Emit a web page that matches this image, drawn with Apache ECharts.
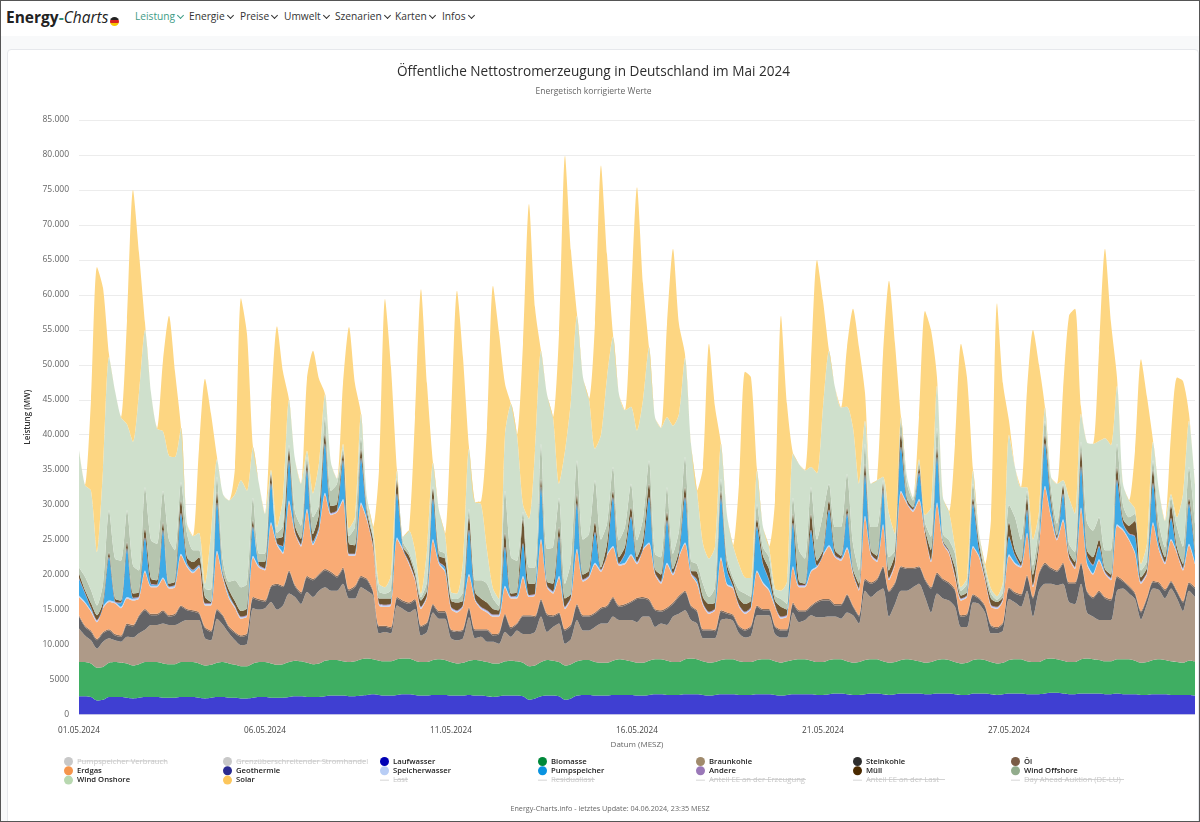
<!DOCTYPE html>
<html lang="de">
<head>
<meta charset="utf-8">
<title>Energy-Charts</title>
<script src="https://cdn.jsdelivr.net/npm/echarts@6/dist/echarts.min.js"></script>
<style>
    html, body { margin: 0; padding: 0; width: 1200px; height: 822px; overflow: hidden; background: #f8f9fa; font-family: "Open Sans", sans-serif; }
    #nav { position: absolute; left: 0; top: 0; width: 1200px; height: 36px; background: #fff; }
    #logo { position: absolute; left: 6px; top: 6px; font-size: 15.5px; line-height: 22px; color: #222; white-space: nowrap; }
    #logo b { font-weight: 700; }
    #logo span { color: #2f8f78; font-weight: 700; }
    #logo i { font-weight: 400; }
    #flag { position: absolute; left: 110px; top: 17px; width: 9px; height: 9px; border-radius: 50%; background: linear-gradient(#222 0 33%, #d8231f 33% 66%, #f7c600 66%); }
    .menu { position: absolute; top: 9px; font-size: 10.2px; line-height: 15px; color: #333; white-space: nowrap; }
    .menu::after { content: ""; display: inline-block; width: 4px; height: 4px; margin: 0 0 2px 3px; border-right: 1.5px solid currentColor; border-bottom: 1.5px solid currentColor; transform: rotate(45deg); }
    .menu.active { color: #3e9c86; }
    #card { position: absolute; left: 7px; top: 49px; width: 1192px; height: 780px; background: #fff; border: 1px solid #e6e8ec; border-radius: 4px; box-sizing: border-box; }
    #main { position: absolute; left: 0; top: 0; width: 1200px; height: 822px; }
    #frame { position: absolute; left: 0; top: 0; width: 1200px; height: 822px; box-sizing: border-box; border: 1.5px solid #555; pointer-events: none; }
</style>
</head>
<body>
<div id="nav">
    <div id="logo"><b>Energy</b><span>-</span><i>Charts</i></div>
    <div id="flag"></div>
    <div class="menu active" style="left:135px">Leistung</div>
    <div class="menu" style="left:189px">Energie</div>
    <div class="menu" style="left:240px">Preise</div>
    <div class="menu" style="left:284px">Umwelt</div>
    <div class="menu" style="left:335px">Szenarien</div>
    <div class="menu" style="left:395px">Karten</div>
    <div class="menu" style="left:442px">Infos</div>
</div>
<div id="card"></div>
<div id="main"></div>
<div id="frame"></div>
<script>
// Werte, alle 4 Stunden (00, 04, 08, 12, 16, 20 Uhr), eine Zeile pro Tag, in MW
const tickLabels = ['01.05.2024', '06.05.2024', '11.05.2024', '16.05.2024', '21.05.2024', '27.05.2024']

const laufwasser = [
    2600,2600,2500,2000,2100,2500, 2500,2500,2400,2300,2400,2500, 2500,2500,2400,2400,2400,2500,
    2500,2500,2400,2300,2400,2500, 2500,2400,2400,2300,2300,2400, 2500,2500,2400,2400,2400,2500,
    2600,2600,2500,2500,2500,2600, 2700,2700,2700,2600,2600,2700, 2800,2900,2800,2700,2700,2800,
    2900,2900,2800,2700,2700,2800, 2800,2800,2700,2700,2700,2800, 2700,2700,2600,2500,2600,2700,
    2700,2700,2600,2100,2300,2600, 2700,2700,2600,2100,2300,2700, 2800,2800,2700,2700,2700,2800,
    2800,2800,2800,2700,2700,2800, 2900,2900,2800,2800,2800,2900, 2900,2900,2800,2700,2800,2900,
    2900,2900,2800,2800,2800,2900, 2900,2900,2800,2700,2800,2900, 2900,2900,2900,2800,2800,2900,
    3000,3000,2900,2800,2800,2900, 3000,3000,2900,2800,2900,3000, 3000,3000,3000,2900,2900,3000,
    3000,3000,2900,2800,2800,3000, 3000,3000,2900,2800,2900,3000, 3000,3000,2900,2900,2900,3000,
    3100,3100,3000,2900,2900,3000, 3000,3000,3000,2900,2900,3000, 2900,2900,2900,2800,2800,2900,
    2900,2900,2800,2800,2800,2800,2700
]
const biomasse = [
    4900,4900,4800,4700,4700,4900, 5000,4900,4900,4700,4800,5000, 5000,5000,4900,4800,4800,5000,
    5000,5000,4900,4700,4700,4900, 5000,4900,4700,4600,4600,4900, 5000,5000,4900,4700,4800,5000,
    5100,5000,4900,4700,4800,5100, 5100,5100,4900,4900,5000,5200, 5200,5000,4900,4900,4900,5100,
    5100,5100,4900,4800,4800,5000, 5100,5000,4800,4600,4700,4900, 5100,5000,4900,4800,4700,4900,
    5000,4900,4800,4800,4700,4900, 5100,5000,4900,4900,4900,4900, 5000,5000,4800,4700,4700,4900,
    5100,5000,4800,4700,4700,4900, 5000,5000,4900,4700,4700,5000, 5100,5000,4800,4700,4700,4900,
    5000,5000,4800,4700,4700,4900, 5000,5000,4800,4700,4800,4900, 5000,5000,4800,4700,4700,4900,
    4900,4900,4700,4600,4700,4900, 4900,4900,4700,4600,4600,4800, 4900,4800,4600,4500,4600,4800,
    4900,4800,4600,4500,4600,4800, 4900,4800,4600,4500,4500,4800, 4900,4900,4700,4600,4600,4900,
    4900,4800,4700,4600,4600,4900, 5000,4900,4800,4700,4700,4900, 5000,5000,4800,4600,4700,4900,
    5000,4900,4800,4700,4600,4900,4900
]
const braunkohle = [
    4800,3800,3300,2700,3600,3500, 3100,3000,3800,4000,4400,4600, 5300,5300,5700,5600,5600,5700,
    6000,6000,6200,3900,3500,6300, 5300,4300,3500,3000,3200,7900, 7500,7700,8800,7900,8400,9800,
    9100,8200,10100,9600,10400,10500, 9900,9900,11100,9100,9000,10300, 9700,9100,3900,4200,4000,7700,
    7100,6600,7400,3800,4300,6800, 5800,5900,3400,3300,3500,6200, 3100,3400,2900,3100,2800,4200,
    3400,4400,4100,4600,4800,6500, 4000,4800,5500,3100,3600,5900, 4200,4200,5000,5600,5600,6300,
    5600,5700,5900,5800,6600,6300, 4600,5100,5100,6500,6900,7000, 5500,5100,3300,3500,3400,5700,
    5800,5500,4000,3500,3800,6400, 6300,6300,3900,3600,3400,6800, 5300,5600,6500,6400,6400,6200,
    6100,5800,7000,6800,5500,9900, 8900,9600,10400,6600,8300,9900, 9800,10400,11100,9400,7100,9500,
    8700,8500,7900,5200,5100,8200, 7900,6800,4100,4300,4600,8700, 8100,7500,10100,6500,10200,10800,
    10700,10600,11000,8600,8300,10800, 6600,6100,5700,5900,5900,9800, 10100,9400,8800,6200,8300,10200,
    9900,8800,10400,9100,7400,10000,9200
]
const steinkohle = [
    1700,1200,1200,1200,1200,1100, 700,700,1700,1600,2400,2800, 1400,1400,1700,1200,1400,2200,
    1400,1200,900,1400,1200,1200, 1200,800,1000,1200,1300,1400, 1300,900,2100,3500,2600,3100,
    1500,1500,2100,2400,2200,2400, 2500,1900,2100,1100,1600,1400, 1500,500,900,700,700,1000,
    1000,1200,1200,1200,1200,1000, 900,900,1100,1200,1100,1200, 1100,900,1600,900,1400,2400,
    1200,900,2500,2500,2100,2300, 2400,1500,1400,1900,1900,2100, 2000,2000,1900,2100,2400,2600,
    1900,2100,2500,3300,2600,2300, 2400,1700,2300,1800,2400,2600, 1900,1700,1100,1100,1000,1200,
    700,700,900,1000,1200,1200, 700,700,1000,1000,1000,1200, 1500,1200,1200,2100,2400,2300,
    1600,1900,2400,1200,1000,1500, 1900,1700,3000,3500,2900,3300, 3100,2600,2300,2400,3400,2800,
    2600,2400,2300,1500,1700,1000, 700,800,1000,700,1000,1500, 1300,1600,2000,2600,2400,2800,
    2100,1900,2800,2600,2900,2800, 2900,2600,4000,3100,2800,1900, 1000,900,700,1000,800,900,
    900,1100,900,900,1200,1000,1200
]
const oel = [
    200,200,200,200,200,200, 200,200,200,200,200,200, 200,200,200,200,200,200,
    200,200,200,200,200,200, 200,200,200,200,200,200, 200,200,200,200,200,200,
    200,200,200,200,200,200, 200,200,200,200,200,200, 200,200,200,200,200,200,
    200,200,200,200,200,200, 200,200,200,200,200,200, 200,200,200,200,200,200,
    200,200,200,200,200,200, 200,200,200,200,200,200, 200,200,200,200,200,200,
    200,200,200,200,200,200, 200,200,200,200,200,200, 200,200,200,200,200,200,
    200,200,200,200,200,200, 200,200,200,200,200,200, 200,200,200,200,200,200,
    200,200,200,200,200,200, 200,200,200,200,200,200, 200,200,200,200,200,200,
    200,200,200,200,200,200, 200,200,200,200,200,200, 200,200,200,200,200,200,
    200,200,200,200,200,200, 200,200,200,200,200,200, 200,200,200,200,200,200,
    200,200,200,200,200,200,200
]
const erdgas = [
    2600,3200,2700,2400,3400,3900, 4400,3900,3600,3500,2400,5300, 3800,3800,4500,3800,3800,7200,
    6000,5300,6400,3100,3600,8100, 5200,4000,3400,2400,2400,5700, 4500,4300,8900,5500,4600,9800,
    7400,6500,9400,4800,6200,10700, 8100,9100,9600,4800,4300,10300, 8300,6200,2900,2700,3100,8300,
    7200,5500,2700,2400,3600,9100, 6700,5600,2900,2600,3200,4600, 4100,2900,2400,2500,2300,3800,
    4100,3500,5400,2600,2900,8400, 3800,3100,5000,2900,3700,7700, 4800,5400,6900,5100,7100,7100,
    5700,5700,6500,4800,6700,7900, 4900,3800,6200,3900,5500,6700, 4400,3800,3400,2200,2800,7400,
    3900,3700,2700,2200,2400,4800, 3600,2600,2700,1500,1800,5000, 3300,3300,4800,4800,6200,7500,
    6700,6200,6500,4500,3500,8800, 3800,2400,5800,1500,2600,10600, 9100,8000,9400,6400,3600,9800,
    5000,4100,1700,2100,2400,6700, 5800,3600,2600,2600,3100,4500, 4000,3800,5900,1400,3700,10800,
    7200,4300,6000,3400,1900,7700, 3800,3200,4300,3300,2700,7200, 7100,6500,5600,3900,3300,8200,
    4600,3600,5800,5300,4400,5300,3300
]
const speicherwasser = [
    200,200,200,200,200,200, 200,200,200,200,200,200, 200,200,200,200,200,200,
    200,200,200,200,200,200, 200,200,200,200,200,200, 200,200,200,200,200,200,
    200,200,200,200,200,200, 200,200,200,200,200,200, 200,200,200,200,200,200,
    200,200,200,200,200,200, 200,200,200,200,200,200, 200,200,200,200,200,200,
    200,200,200,200,200,200, 200,200,200,200,200,200, 200,200,200,200,200,200,
    200,200,200,200,200,200, 200,200,200,200,200,200, 200,200,200,200,200,200,
    200,200,200,200,200,200, 200,200,200,200,200,200, 200,200,200,200,200,200,
    200,200,200,200,200,200, 200,200,200,200,200,200, 200,200,200,200,200,200,
    200,200,200,200,200,200, 200,200,200,200,200,200, 200,200,200,200,200,200,
    200,200,200,200,200,200, 200,200,200,200,200,200, 200,200,200,200,200,200,
    200,200,200,200,200,200,200
]
const pumpspeicher = [
    2400,1200,300,0,0,6200, 0,500,6900,100,0,4600, 200,100,6700,0,100,5700,
    300,200,100,0,0,6800, 200,200,0,0,0,4100, 100,0,5500,0,800,5700,
    0,0,5500,200,300,7000, 0,0,5500,0,0,6300, 300,0,0,0,0,6200,
    0,0,0,0,0,5700, 100,400,0,0,0,6200, 0,0,0,0,0,5500,
    0,200,4600,0,0,7400, 0,0,5600,0,0,6400, 0,0,4300,0,0,6900,
    0,1300,5300,0,0,6400, 0,0,6000,0,0,6400, 0,300,0,0,0,8500,
    1900,100,0,0,0,6200, 2600,1300,0,0,0,6100, 0,0,5700,0,0,5000,
    0,0,4800,0,0,5800, 0,0,4800,0,0,6200, 0,0,3700,0,0,6500,
    0,0,0,0,0,6000, 800,0,0,0,0,2500, 1000,0,3200,0,0,6000,
    1600,0,3600,0,0,5800, 1000,1100,1800,0,0,6300, 800,700,2200,0,0,5500,
    500,0,2900,0,0,5700,1000
]
const andere = [
    100,100,100,100,100,100, 100,100,100,100,100,100, 100,100,100,100,100,100,
    100,100,100,100,100,100, 100,100,100,100,100,100, 100,100,100,100,100,100,
    100,100,100,100,100,100, 100,100,100,100,100,100, 100,100,100,100,100,100,
    100,100,100,100,100,100, 100,100,100,100,100,100, 100,100,100,100,100,100,
    100,100,100,100,100,100, 100,100,100,100,100,100, 100,100,100,100,100,100,
    100,100,100,100,100,100, 100,100,100,100,100,100, 100,100,100,100,100,100,
    100,100,100,100,100,100, 100,100,100,100,100,100, 100,100,100,100,100,100,
    100,100,100,100,100,100, 100,100,100,100,100,100, 100,100,100,100,100,100,
    100,100,100,100,100,100, 100,100,100,100,100,100, 100,100,100,100,100,100,
    100,100,100,100,100,100, 100,100,100,100,100,100, 100,100,100,100,100,100,
    100,100,100,100,100,100,100
]
const muell = [
    700,400,600,700,600,600, 400,300,900,600,600,1300, 700,600,1100,400,400,1800,
    800,1100,1100,900,200,1500, 400,700,700,800,900,900, 400,900,1300,700,1400,1400,
    800,800,1000,1100,1800,1300, 1000,900,900,1400,1200,1300, 700,900,700,900,700,1900,
    200,900,600,900,700,1400, 800,1200,900,1100,600,1800, 900,1200,1100,800,600,2000,
    400,400,3500,1600,1400,1100, 500,1100,1300,1200,400,1300, 700,700,1400,300,1400,900,
    900,900,1300,700,1100,1900, 500,1000,1200,600,700,1400, 300,1100,900,1100,800,900,
    800,600,900,1100,900,1100, 1100,1500,600,1400,700,1300, 500,200,2300,700,500,1300,
    700,400,800,400,700,1500, 500,600,900,1100,1200,1800, 400,300,700,500,1400,1300,
    200,200,1100,400,400,800, 900,500,900,700,200,2000, 700,500,1700,1500,700,1200,
    900,400,1100,600,700,2200, 700,1100,900,400,500,1800, 600,1100,2200,600,600,1900,
    800,700,1800,600,600,800,700
]
const windOffshore = [
    800,1900,1900,1400,2600,6000, 5700,5700,4500,4000,3100,5900, 5500,5200,4500,6300,4500,2600,
    3400,1700,1000,1200,1700,2200, 1700,1200,3000,3400,3500,3200, 1200,1200,100,800,1500,700,
    2000,1900,800,2400,1300,2400, 2200,2900,700,1100,2600,1600, 800,400,1000,700,1200,300,
    700,500,700,500,1200,300, 800,700,400,500,1200,1200, 1700,2600,2700,1500,600,6000,
    5200,4500,1000,2300,2300,5000, 4700,5200,4200,2100,4700,4800, 5000,5200,6000,4000,2900,3400,
    2400,2800,3400,2400,3100,3300, 2200,2500,3500,2200,2800,4300, 1400,1100,1900,1000,2200,1700,
    1000,600,1200,1500,500,2100, 1200,1700,700,1100,800,2300, 4500,3600,3800,3000,5200,2400,
    3300,4100,4800,3600,1900,2900, 3300,4100,500,1900,500,1900, 2200,1000,700,900,1900,2800,
    900,1400,2000,700,1200,2000, 500,800,700,300,700,2500, 4700,3200,1000,1300,2300,2000,
    1500,1700,300,1200,1400,1300, 4000,3800,3200,2700,3500,3300, 2000,1200,1000,1000,1000,1300,
    2200,1400,1100,2900,2500,4400,3800
]
const windOnshore = [
    16800,13100,14200,7600,16300,21900, 24000,20500,12300,17700,25400,22500, 21100,16500,8500,12000,13300,7800,
    1400,2000,2500,700,8200,2500, 9500,11600,12300,15300,13300,7200, 10000,5700,500,800,4000,6500,
    7500,6000,900,3400,6000,3300, 4000,700,700,1100,1400,3400, 1200,1300,1100,900,2200,1100,
    700,3100,2700,500,4500,3400, 5700,2800,800,800,4500,8600, 11200,10900,4800,1400,1000,8000,
    21900,18000,1000,7000,16700,13300, 22100,18600,2000,19000,23000,20700, 23200,19300,4500,15000,20900,18600,
    20900,16700,11000,15700,17000,16200, 19500,18500,10000,18300,16700,14200, 16700,10500,5700,5500,5800,5000,
    6000,4600,3700,2300,2700,4800, 2900,1500,1000,1200,3200,6300, 12300,12600,2900,9500,15300,19000,
    20000,17100,9600,16600,12400,3300, 6200,6700,500,6200,2300,500, 1000,400,500,1000,4200,6000,
    5200,4100,1000,500,800,1900, 1000,700,700,500,1500,10000, 7200,7500,500,3700,1700,1900,
    1500,5700,500,6600,5500,4000, 11400,12400,10900,16000,15000,8300, 3000,2400,700,900,2500,2700,
    4700,3800,500,1400,7500,6600,5700
]
const solar = [
    0,0,13000,40800,26000,400, 0,0,14800,36000,20000,1000, 0,0,10100,20000,12200,0,
    0,0,12000,29300,17000,300, 0,0,3900,26000,22400,0, 0,0,9000,28700,18000,0,
    0,0,10300,20400,12000,0, 0,0,8600,28800,19100,0, 0,0,16300,41200,29600,0,
    0,0,19000,43500,23800,0, 0,0,24500,43300,29000,200, 0,400,17500,43300,38100,7300,
    0,0,23000,45000,20500,0, 0,0,21400,42200,21300,300, 0,0,18000,38500,17600,400,
    0,0,15000,34800,16600,0, 0,0,13300,25300,12800,500, 0,0,11000,30700,20000,0,
    0,0,11500,29400,28700,100, 0,0,12600,39300,25400,0, 0,0,14600,30500,15200,0,
    0,0,8500,17000,19500,4000, 0,0,17500,33300,27200,0, 0,0,6000,29200,25400,1200,
    0,0,14700,34800,28700,100, 0,0,10000,41900,28300,2000, 0,0,13800,30000,21000,0,
    0,0,12800,26000,29300,1000, 0,0,12900,27100,17500,1200, 0,0,8300,29300,20900,200,
    0,0,8500,20000,16200,1000,0
]

// alle 31 Punkte ein Achsenlabel (wie im Original ca. 5 Tage Abstand)
const labelStep = 31
const categories = laufwasser.map((v, i) => (i % labelStep === 0 ? (tickLabels[i / labelStep] || '') : ''))

const fontFamily = '"Open Sans", sans-serif'

// Flächen von unten nach oben: Name, Legendenfarbe, Flächenfarbe
const areas = [
    ['Laufwasser', '#0000b4', '#3f3fd2', laufwasser],
    ['Biomasse', '#00893a', '#3fae62', biomasse],
    ['Braunkohle', '#a08a6c', '#ae9a88', braunkohle],
    ['Steinkohle', '#2e2e2e', '#636366', steinkohle],
    ['Öl', '#7a5c46', '#8a6f5c', oel],
    ['Erdgas', '#f5954c', '#f9ab75', erdgas],
    ['Speicherwasser', '#b8cdf5', '#c0d4f4', speicherwasser],
    ['Pumpspeicher', '#0a93e0', '#3eaae6', pumpspeicher],
    ['Andere', '#9a78b8', '#9a78b8', andere],
    ['Müll', '#4a2a00', '#6e5533', muell],
    ['Wind Offshore', '#92ac8c', '#b6c5af', windOffshore],
    ['Wind Onshore', '#b8d8b0', '#cfe0cc', windOnshore],
    ['Solar', '#fcc65c', '#fdd682', solar]
]

// ausgeblendete Reihen aus der Legende
const hiddenAreas = ['Pumpspeicher Verbrauch', 'Grenzüberschreitender Stromhandel']
const hiddenLines = ['Last', 'Residuallast', 'Anteil EE an der Erzeugung', 'Anteil EE an der Last', 'Day Ahead Auktion (DE-LU)']
const hiddenNames = hiddenAreas.concat(hiddenLines)

const legendColumns = [
    ['Pumpspeicher Verbrauch', 'Erdgas', 'Wind Onshore'],
    ['Grenzüberschreitender Stromhandel', 'Geothermie', 'Solar'],
    ['Laufwasser', 'Speicherwasser', 'Last'],
    ['Biomasse', 'Pumpspeicher', 'Residuallast'],
    ['Braunkohle', 'Andere', 'Anteil EE an der Erzeugung'],
    ['Steinkohle', 'Müll', 'Anteil EE an der Last'],
    ['Öl', 'Wind Offshore', 'Day Ahead Auktion (DE-LU)']
]
const legendLeft = [64, 223, 380, 538, 696, 853, 1011]
const lineIcon = 'path://M0 0h.01v.01h-.01zM0 4.6h10v.8H0zM10 10h.01v.01H10z'

const areaSeries = areas.map(([name, color, fill, data]) => ({
    name,
    type: 'line',
    stack: 'total',
    data,
    symbol: 'none',
    smooth: 0.25,
    silent: true,
    itemStyle: { color },
    lineStyle: { width: 0 },
    areaStyle: { color: fill, opacity: 1 }
}))

const selected = {}
hiddenNames.forEach((name) => { selected[name] = false })

const emptySeries = hiddenNames.map((name) => ({
    name,
    type: 'line',
    data: [],
    symbol: 'none',
    itemStyle: { color: '#bbbbbb' }
}))
emptySeries.push({
    name: 'Geothermie',
    type: 'line',
    data: [],
    symbol: 'none',
    itemStyle: { color: '#2a2a90' }
})

// durchgestrichene Legendentexte
const strikes = [
    [78, 167, 761], [237, 366, 761], [394, 408, 779.5], [552, 595, 779.5],
    [710, 806, 779.5], [867, 945, 779.5], [1025, 1124, 779.5]
]

const chart = echarts.init(document.getElementById('main'))
chart.setOption({
    animation: false,
    textStyle: { fontFamily },
    title: [{
        text: 'Öffentliche Nettostromerzeugung in Deutschland im Mai 2024',
        left: 588.5,
        top: 60,
        textAlign: 'center',
        textStyle: { fontFamily, fontSize: 13.6, fontWeight: 500, color: '#2d2d2d' }
    }, {
        text: 'Energetisch korrigierte Werte',
        left: 588.5,
        top: 82,
        textAlign: 'center',
        textStyle: { fontFamily, fontSize: 8.5, fontWeight: 400, color: '#666666' }
    }, {
        text: 'Energy-Charts.info - letztes Update: 04.06.2024, 23:35 MESZ',
        left: 605,
        top: 800,
        textAlign: 'center',
        textStyle: { fontFamily, fontSize: 7.2, fontWeight: 400, color: '#666666' }
    }],
    grid: { left: 79, right: 5, top: 120, height: 594.5, outerBoundsMode: 'none' },
    legend: legendColumns.map((names, i) => ({
        orient: 'vertical',
        left: legendLeft[i],
        top: 757,
        itemWidth: 9,
        itemHeight: 9,
        itemGap: 0.3,
        padding: 0,
        selected,
        selectedMode: false,
        inactiveColor: '#c8c8c8',
        textStyle: { fontFamily, fontSize: 7.7, fontWeight: 600, color: '#222222', padding: [0, 0, 0, -1] },
        data: names.map((name) => ({
            name,
            icon: hiddenLines.includes(name) ? lineIcon : 'circle',
            textStyle: hiddenNames.includes(name) ? { fontWeight: 400 } : undefined
        }))
    })),
    xAxis: {
        type: 'category',
        boundaryGap: false,
        data: categories,
        name: 'Datum (MESZ)',
        nameLocation: 'middle',
        nameGap: 26,
        nameTextStyle: { fontSize: 8, color: '#666666' },
        axisLine: { show: false },
        axisTick: { show: false },
        axisLabel: { interval: labelStep - 1, margin: 12, fontSize: 8.2, color: '#444444' },
        splitLine: { show: false }
    },
    yAxis: {
        type: 'value',
        min: 0,
        max: 85000,
        interval: 5000,
        name: 'Leistung (MW)',
        nameLocation: 'middle',
        nameGap: 38,
        nameTextStyle: { fontSize: 8, fontWeight: 600, color: '#333333' },
        axisLine: { show: false },
        axisTick: { show: false },
        axisLabel: {
            margin: 10,
            fontSize: 8.5,
            color: '#666666',
            padding: [2, 0, 0, 0],
            formatter: (v) => (v >= 10000 ? `${Math.floor(v / 1000)}.${String(v % 1000).padStart(3, '0')}` : `${v}`)
        },
        splitLine: { lineStyle: { color: '#ececec', width: 1 } }
    },
    series: areaSeries.concat(emptySeries),
    graphic: strikes.map(([x1, x2, y]) => ({
        type: 'line',
        silent: true,
        z: 100,
        shape: { x1, y1: y, x2, y2: y },
        style: { stroke: '#c8c8c8', lineWidth: 0.8 }
    }))
})
</script>
</body>
</html>
